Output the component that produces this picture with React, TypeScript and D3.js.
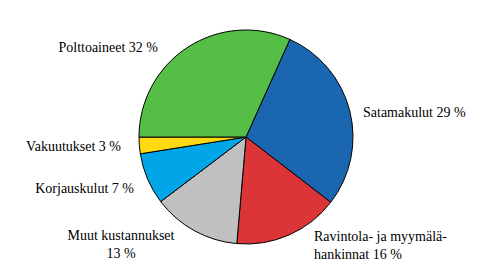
import React from "react";
import * as d3 from "d3";

const categories = [
  "Satamakulut",
  "Ravintola- ja myymälähankinnat",
  "Muut kustannukset",
  "Korjauskulut",
  "Vakuutukset",
  "Polttoaineet",
];
const shares = [28.7, 15.9, 13.3, 7.8, 2.5, 31.7];
// percentages printed in the labels
const labelPercents = [29, 16, 13, 7, 3, 32];
const colors = ["#1A66B0", "#DC3537", "#C0C0C0", "#00A6E8", "#FFDA12", "#54BE47"];

// label layout (lines, anchor, position)
const labelLayout = [
  { lines: ["Satamakulut 29 %"], x: 363, y: 117, anchor: "start" },
  { lines: ["Ravintola- ja myymälä-", "hankinnat 16 %"], x: 314, y: 241, anchor: "start" },
  { lines: ["Muut kustannukset", "13 %"], x: 121, y: 240, anchor: "middle" },
  { lines: ["Korjauskulut 7 %"], x: 134, y: 193, anchor: "end" },
  { lines: ["Vakuutukset 3 %"], x: 121, y: 151, anchor: "end" },
  { lines: ["Polttoaineet 32 %"], x: 158, y: 52, anchor: "end" },
];

const W = 492;
const H = 274;
const cx = 246;
const cy = 137;
const R = 107;
const startDeg = 24.2;

export default function App() {
  const pie = d3
    .pie<number>()
    .sort(null)
    .value((d) => d)
    .startAngle((startDeg * Math.PI) / 180)
    .endAngle(((startDeg + 360) * Math.PI) / 180);
  const arcs = pie(shares);
  const arc = d3.arc<d3.PieArcDatum<number>>().innerRadius(0).outerRadius(R);
  const lineH = 17.5;
  return (
    <svg
      width={W}
      height={H}
      style={{
        position: "absolute",
        left: 0,
        top: 0,
        background: "#fff",
        fontFamily: '"Liberation Serif", "DejaVu Serif", serif',
        fontSize: "14px",
      }}
    >
      <rect width={W} height={H} fill="#fff" />
      <g transform={`translate(${cx},${cy})`}>
        {arcs.map((a, i) => (
          <path
            key={categories[i]}
            d={arc(a) || ""}
            fill={colors[i]}
            stroke="#000"
            strokeWidth={1}
            strokeLinejoin="round"
          />
        ))}
      </g>
      {labelLayout.map((l, i) => (
        <text key={i} x={l.x} y={l.y} textAnchor={l.anchor as any} fill="#000">
          {l.lines.map((t, j) => (
            <tspan key={j} x={l.x} dy={j === 0 ? 0 : lineH}>
              {t}
            </tspan>
          ))}
        </text>
      ))}
    </svg>
  );
}
